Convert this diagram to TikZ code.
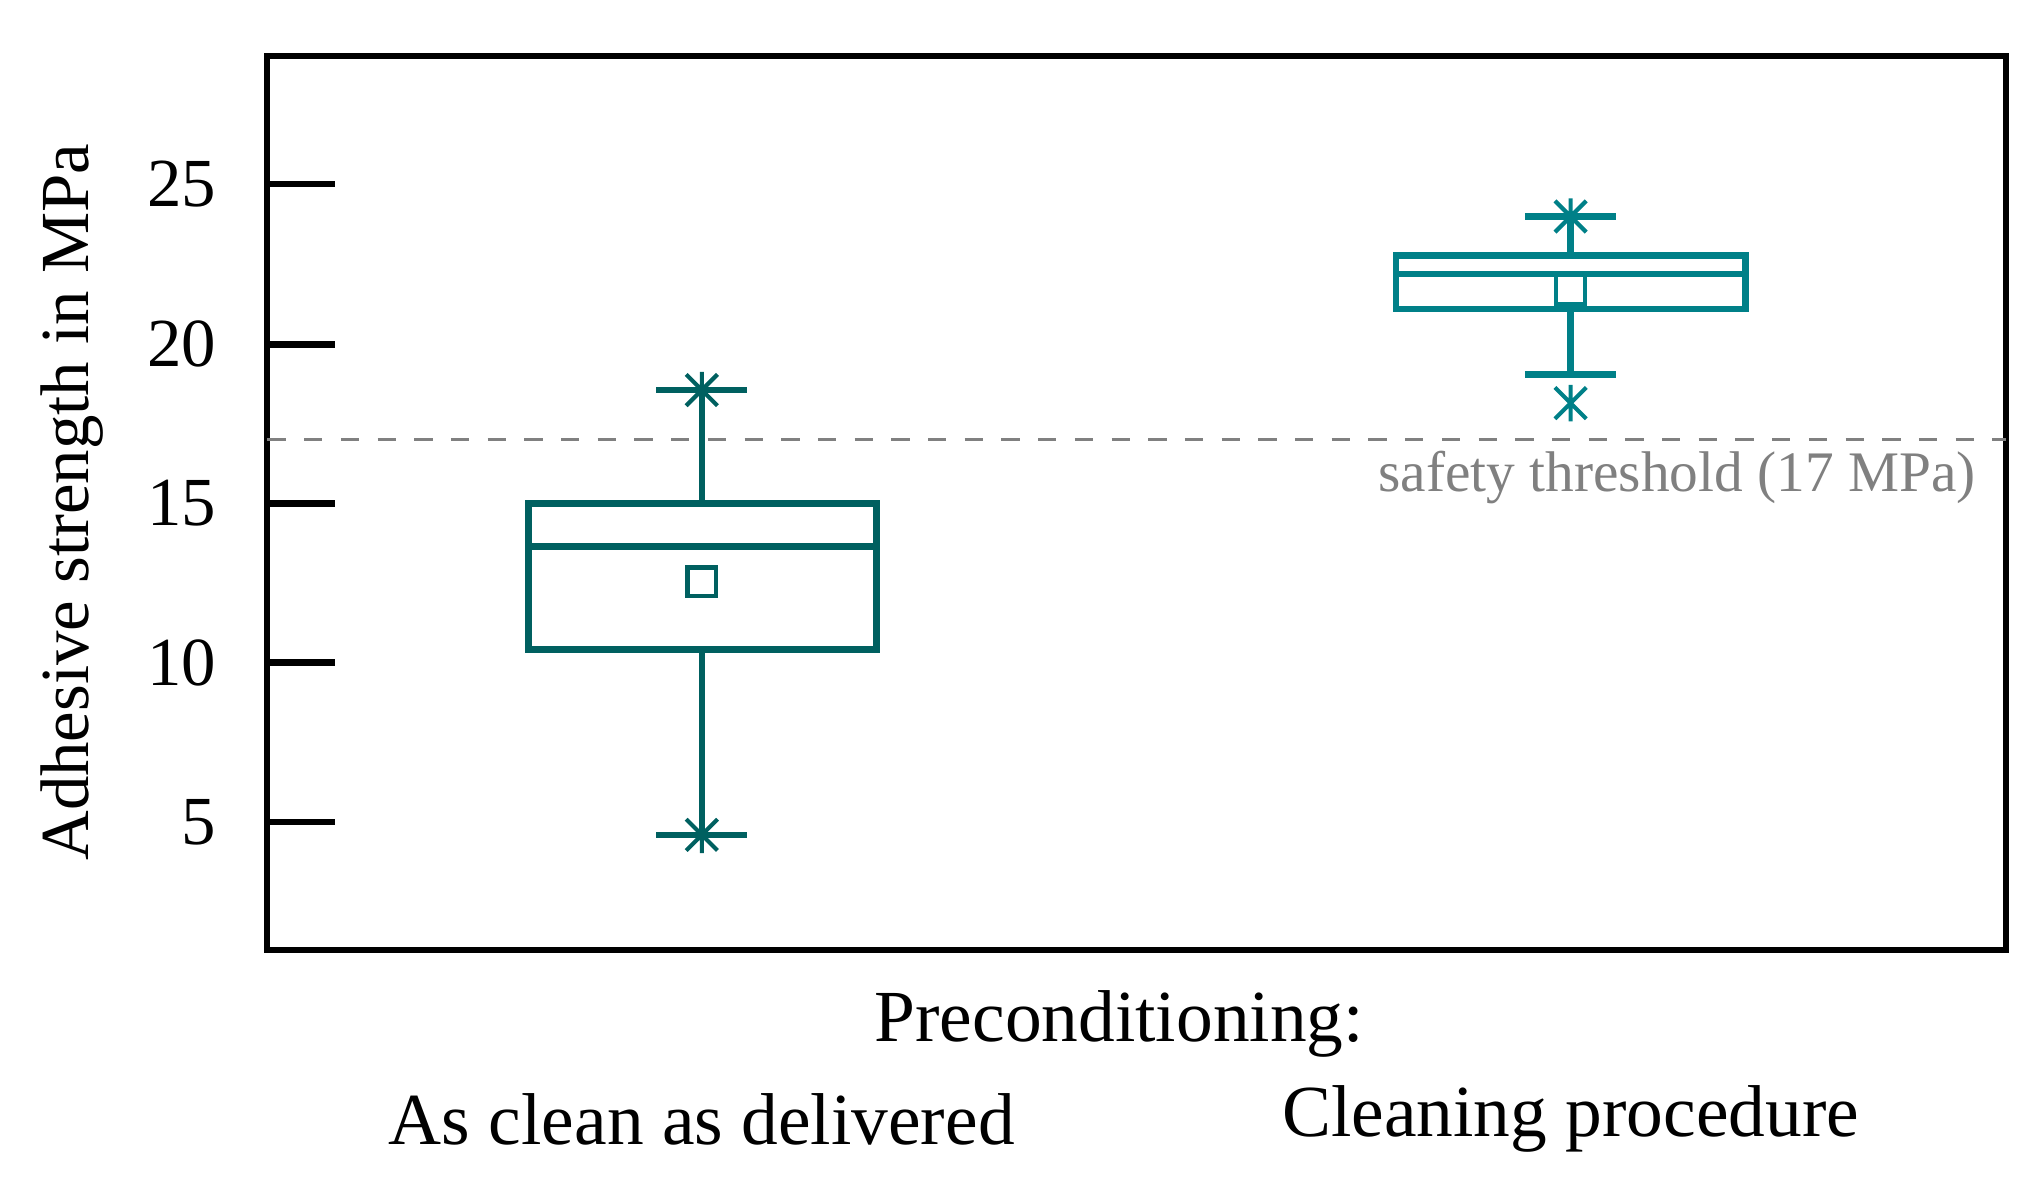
\documentclass[tikz,border=0pt]{standalone}
\usepackage{fontspec}
\setmainfont{Liberation Serif}
\begin{document}
\begin{tikzpicture}[x=0.01cm,y=-0.01cm,
  dk/.style={draw={rgb,255:red,0;green,96;blue,96},line width=1.4pt},
  lt/.style={draw={rgb,255:red,0;green,128;blue,136},line width=1.4pt},
  lab/.style={font=\fontsize{15}{17}\selectfont},
  tick/.style={line width=1.4pt}]
\useasboundingbox (0,0) rectangle (1560,907);
\draw[line width=1.3pt] (205,43) rectangle (1538,728);
\foreach \v/\y in {25/141,20/264,15/386,10/508,5/630}{
  \draw[tick] (205,\y) -- (257,\y);
  \node[lab,anchor=east] (t\v) at (178,\y) {\v};
}
\node[lab,rotate=90] (yl) at (55,385) {Adhesive strength in MPa};
% threshold
\coordinate (th1) at (205,337); \coordinate (th2) at (1538,337);
\draw[gray,dashed,dash pattern=on 4pt off 4pt,line width=0.8pt] (th1) -- (th2);
\node[anchor=east,gray,font=\fontsize{12.5}{14}\selectfont] (thl) at (1527,366) {safety threshold (17 MPa)};
% box 1
\draw[dk] (405,386) rectangle (672,498);
\draw[dk] (405,419) -- (672,419);
\draw[dk] (538,386) -- (538,299) (503,299) -- (573,299);
\draw[dk] (538,498) -- (538,640) (503,640) -- (573,640);
\draw[dk,line width=0.9pt] (527,435) rectangle (549,457);
\foreach \y in {299,640}{
  \draw[dk,line width=0.9pt] (526,\y-12) -- (550,\y+12) (526,\y+12) -- (550,\y-12) (538,\y-14) -- (538,\y+14);}
% box 2
\draw[lt] (1070,196) rectangle (1338,237);
\draw[lt] (1070,210) -- (1338,210);
\draw[lt] (1204,196) -- (1204,166) (1169,166) -- (1239,166);
\draw[lt] (1204,237) -- (1204,287) (1169,287) -- (1239,287);
\draw[lt,line width=0.9pt] (1193,211) rectangle (1215,233);
\foreach \y in {166,309}{
  \draw[lt,line width=0.9pt] (1192,\y-12) -- (1216,\y+12) (1192,\y+12) -- (1216,\y-12) (1204,\y-14) -- (1204,\y+14);}
\node[lab,font=\fontsize{16}{18}\selectfont] (pc) at (858,785) {Preconditioning:};
\node[lab,font=\fontsize{16}{18}\selectfont] (c1) at (538,858) {As clean as delivered};
\node[lab,font=\fontsize{16}{18}\selectfont] (c2) at (1204,858) {Cleaning procedure};
\end{tikzpicture}
\end{document}
